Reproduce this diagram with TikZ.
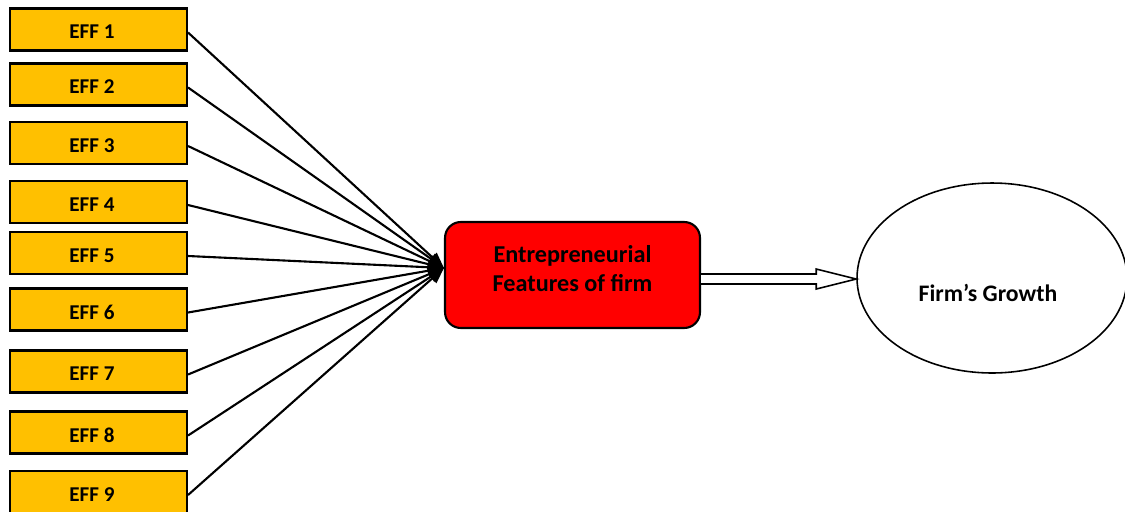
\documentclass[tikz,border=0pt]{standalone}
\usepackage{fontspec}
\setmainfont{Carlito}
\usetikzlibrary{arrows.meta,shapes.geometric,calc}
\definecolor{effgold}{RGB}{255,192,0}
\begin{document}
\begin{tikzpicture}[x=0.02cm,y=-0.02cm,
  efftext/.style={font=\bfseries\fontsize{12}{14}\selectfont,xshift=-0.13cm,yshift=-0.05cm},
  effbox/.style={draw=black,line width=1.2pt,fill=effgold,minimum width=3.54cm,minimum height=0.84cm,
    inner sep=0pt,label={[efftext]center:#1}},
  feedline/.style={line width=1.2pt,-{Triangle[length=9pt,width=7pt]}},
  coretext/.style={align=center,font=\bfseries\fontsize{13.8}{16.5}\selectfont,yshift=0.13cm},
  corebox/.style={draw=black,line width=1.2pt,fill=red,rounded corners=9pt,minimum width=5.1cm,
    minimum height=2.12cm,label={[coretext]center:#1}},
  growthtext/.style={font=\bfseries\fontsize{13.5}{16}\selectfont,xshift=-0.08cm,yshift=-0.3cm},
  growth/.style={draw=black,line width=0.9pt,ellipse,minimum width=5.4cm,minimum height=3.8cm,
    label={[growthtext]center:#1}}]
\useasboundingbox (0,0) rectangle (1125,511);

% input boxes
\node[effbox=EFF 1] (e1) at (98.5,29.5) {};
\node[effbox=EFF 2] (e2) at (98.5,84.5) {};
\node[effbox=EFF 3] (e3) at (98.5,143) {};
\node[effbox=EFF 4] (e4) at (98.5,202) {};
\node[effbox=EFF 5] (e5) at (98.5,253) {};
\node[effbox=EFF 6] (e6) at (98.5,309.5) {};
\node[effbox=EFF 7] (e7) at (98.5,371.5) {};
\node[effbox=EFF 8] (e8) at (98.5,432.5) {};
\node[effbox=EFF 9] (e9) at (98.5,492) {};

% central construct and outcome
\node[corebox={Entrepreneurial\\Features of firm}] (core) at (572.5,275) {};
\node[growth={Firm’s Growth}] (fg) at (992,278) {};

\coordinate (hub) at ($(core.west)+(0,-7)$);
\foreach \i in {1,...,9}
  \draw[feedline] ($(e\i.east)+(0,3)$) -- (hub);

% hollow block arrow from the construct to the outcome
\coordinate (a0) at ($(core.east)+(0,4)$);
\coordinate (a1) at ($(fg.west)+(0,1)$);
\draw[line width=0.9pt,fill=white]
  ($(a0)+(0,-5)$) -- ($(a1)+(-40,-5)$) -- ($(a1)+(-40,-10)$) -- (a1)
  -- ($(a1)+(-40,10)$) -- ($(a1)+(-40,5)$) -- ($(a0)+(0,5)$);
\end{tikzpicture}
\end{document}
